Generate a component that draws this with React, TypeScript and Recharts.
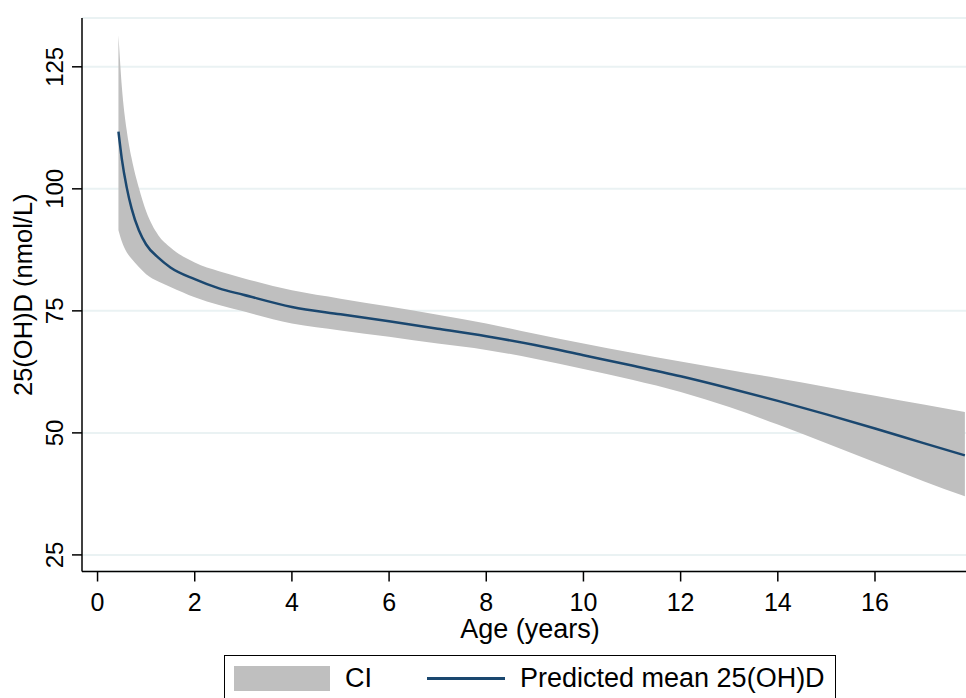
import React from 'react';
import { ComposedChart, Area, Line, XAxis, YAxis, CartesianGrid, Label } from 'recharts';

// age in years
const ages = [0.43, 0.5, 0.6, 0.7, 0.85, 1.0, 1.25, 1.5, 2, 2.5, 3, 4, 5, 6, 7, 8, 9, 10, 11, 12, 13, 14, 15, 16, 17, 17.85];
// predicted mean 25(OH)D, nmol/L
const predictedMean = [111.7, 106.1, 100.3, 96.0, 91.5, 88.6, 85.9, 83.9, 81.5, 79.6, 78.3, 75.8, 74.3, 72.85, 71.35, 69.8, 68.0, 65.9, 63.8, 61.6, 59.15, 56.55, 53.8, 50.9, 47.9, 45.4];
// confidence interval bounds
const ciUpper = [131.5, 120.9, 112.0, 106.3, 100.2, 95.4, 90.5, 88.0, 84.9, 83.1, 81.7, 79.2, 77.5, 75.9, 74.2, 72.4, 70.3, 68.3, 66.4, 64.6, 62.9, 61.2, 59.4, 57.6, 55.8, 54.3];
const ciLower = [91.5, 89.2, 87.0, 85.7, 84.0, 82.5, 81.0, 79.9, 77.8, 76.2, 74.9, 72.4, 71.0, 69.7, 68.3, 67.0, 65.2, 63.1, 60.9, 58.4, 55.3, 51.7, 47.9, 44.0, 40.1, 37.0];

const xTicks = [0, 2, 4, 6, 8, 10, 12, 14, 16];
const yTicks = [25, 50, 75, 100, 125];

const FONT = '"Liberation Sans", Arial, Helvetica, sans-serif';
const LINE_COLOR = '#1a476f';
const CI_COLOR = '#bfbfbf';

const chartData = ages.map((age, i) => ({
  age,
  mean: predictedMean[i],
  ci: [ciLower[i], ciUpper[i]],
}));

function YTick({ x, y, payload }: any) {
  const bx = x - 7;
  return (
    <text x={bx} y={y} transform={`rotate(-90 ${bx} ${y})`} textAnchor="middle" fontSize={24} fontFamily={FONT} fill="#000">
      {payload.value}
    </text>
  );
}

function XTick({ x, y, payload }: any) {
  return (
    <text x={x} y={y} dy={17} textAnchor="middle" fontSize={25} fontFamily={FONT} fill="#000">
      {payload.value}
    </text>
  );
}

function YTitle({ viewBox }: any) {
  const x = viewBox.x + 31.6;
  const y = viewBox.y + viewBox.height / 2;
  return (
    <text x={x} y={y} transform={`rotate(-90 ${x} ${y})`} textAnchor="middle" fontSize={25.5} fontFamily={FONT} fill="#000">
      25(OH)D (nmol/L)
    </text>
  );
}

function XTitle({ viewBox }: any) {
  return (
    <text x={viewBox.x + viewBox.width / 2} y={638} textAnchor="middle" fontSize={27} fontFamily={FONT} fill="#000">
      Age (years)
    </text>
  );
}

export default function App() {
  return (
    <div style={{ position: 'absolute', left: 0, top: 0, width: 966, height: 698, overflow: 'hidden', background: '#fff', fontFamily: FONT }}>
      <ComposedChart width={978} height={698} data={chartData} margin={{ top: 18, right: 0, left: 0, bottom: 56.5 }}>
        <CartesianGrid horizontal vertical={false} stroke="#eaf2f3" strokeWidth={2} />
        <XAxis
          dataKey="age"
          type="number"
          domain={[-0.32, 18.12]}
          ticks={xTicks}
          allowDataOverflow
          height={70}
          tick={<XTick />}
          tickSize={10}
          tickMargin={12}
          axisLine={{ stroke: '#000', strokeWidth: 1.5 }}
          tickLine={{ stroke: '#000', strokeWidth: 1.5 }}
        >
          <Label content={<XTitle />} />
        </XAxis>
        <YAxis
          type="number"
          domain={[21.6, 135]}
          ticks={yTicks}
          allowDataOverflow
          width={82}
          tick={<YTick />}
          tickSize={10}
          tickMargin={2}
          axisLine={{ stroke: '#000', strokeWidth: 1.5 }}
          tickLine={{ stroke: '#000', strokeWidth: 1.5 }}
        >
          <Label content={<YTitle />} />
        </YAxis>
        <Area
          dataKey="ci"
          type="monotone"
          stroke="none"
          fill={CI_COLOR}
          fillOpacity={1}
          isAnimationActive={false}
          dot={false}
          activeDot={false}
        />
        <Line
          dataKey="mean"
          type="monotone"
          stroke={LINE_COLOR}
          strokeWidth={2.5}
          dot={false}
          activeDot={false}
          isAnimationActive={false}
        />
      </ComposedChart>

      <div style={{ position: 'absolute', left: 224, top: 655, width: 612, height: 70, border: '1px solid #000', boxSizing: 'border-box', background: '#fff' }}>
        <div style={{ position: 'absolute', left: 9, top: 10, width: 96, height: 25, background: CI_COLOR }} />
        <div style={{ position: 'absolute', left: 120, top: 7, fontSize: 27, lineHeight: '30px', color: '#000' }}>CI</div>
        <div style={{ position: 'absolute', left: 202, top: 21, width: 78, height: 2.5, background: LINE_COLOR }} />
        <div style={{ position: 'absolute', left: 295, top: 7, fontSize: 27, lineHeight: '30px', color: '#000', whiteSpace: 'nowrap' }}>
          Predicted mean 25(OH)D
        </div>
      </div>
    </div>
  );
}
